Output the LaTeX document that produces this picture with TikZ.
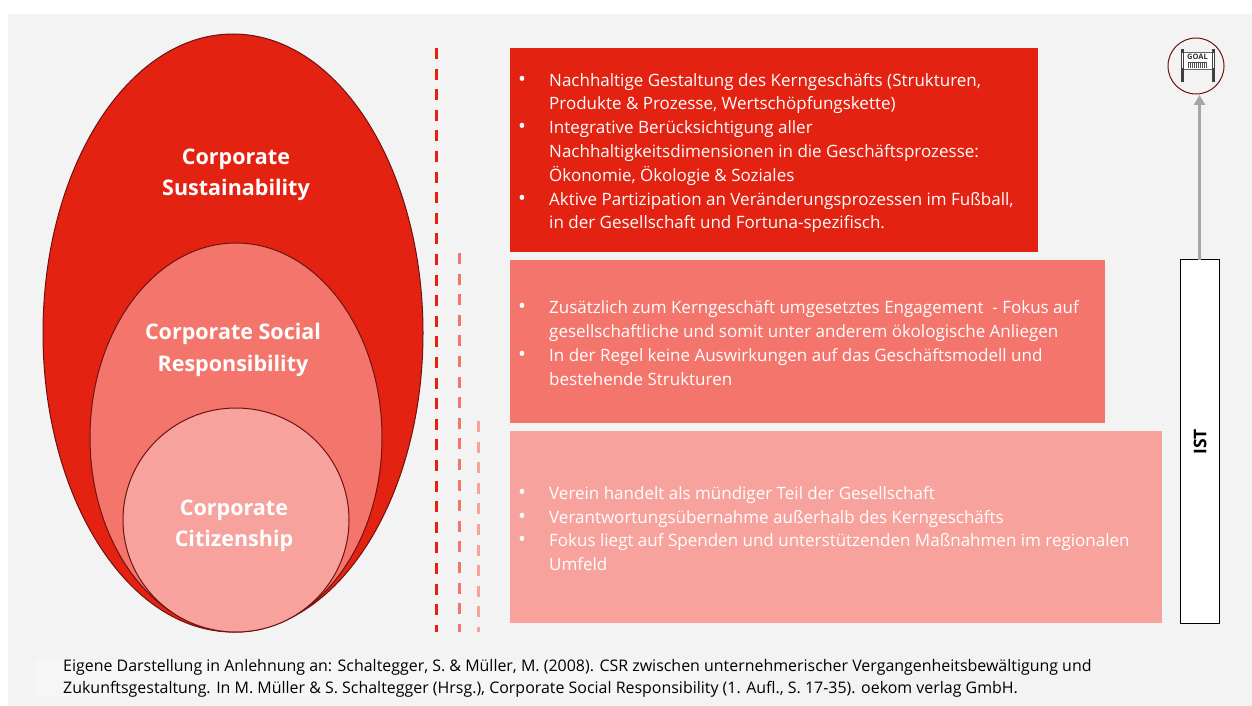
\documentclass[tikz,border=0pt]{standalone}
\usepackage{fontspec}
\setmainfont{Open Sans}
\usetikzlibrary{arrows.meta,shapes.geometric}
\definecolor{bgG}{HTML}{F3F3F3}
\definecolor{redA}{HTML}{E32212}
\definecolor{redB}{HTML}{F4756C}
\definecolor{redC}{HTML}{F8A29D}
\definecolor{edgeD}{HTML}{6E1210}
\newcommand{\bul}[1]{\makebox[39pt][l]{\hspace*{8pt}{\fontsize{21}{24}\selectfont •}}#1}
\newcommand{\cont}[1]{\hspace*{39pt}#1}
\tikzset{
 x=1pt,y=-1pt,
 oval/.style={ellipse,draw=edgeD,line width=1pt,inner sep=0pt,outer sep=0pt},
 panel/.style={anchor=north west,inner sep=0pt,outer sep=0pt,minimum height=#1},
 title/.style={font=\fontsize{21.5}{31.5}\selectfont\bfseries,text=white,align=center},
 body/.style={font=\fontsize{17}{23.8}\selectfont,text=white,align=left,anchor=west,inner sep=0pt},
 divider/.style={line width=3pt,dash pattern=on 11pt off 9.6pt},
}
\begin{document}
\begin{tikzpicture}
\useasboundingbox (0,0) rectangle (1252,706);
\fill[white] (0,0) rectangle (1252,706);
\fill[bgG] (8,14) rectangle (1252,706);
\fill[white!25!bgG] (36,660) rectangle (700,697);
% ovals
\node[oval,fill=redA,minimum width=380pt,minimum height=598pt] (o1) at (233,333) {};
\node[oval,fill=redB,minimum width=292pt,minimum height=389pt] (o2) at (236,437.5) {};
\node[oval,fill=redC,minimum width=226pt,minimum height=224pt] (o3) at (236,520) {};
\node[title] (t1) at (236,175) {Corporate\\Sustainability};
\node[title] (t2) at (233,350) {Corporate Social\\Responsibility};
\node[title] (t3) at (234,526) {Corporate\\Citizenship};
% dividers
\coordinate (d1a) at (436,48); \coordinate (d1b) at (436,632);
\coordinate (d2a) at (459,253); \coordinate (d2b) at (459,632);
\coordinate (d3a) at (478,421); \coordinate (d3b) at (478,632);
\draw[divider,draw=redA] (d1a) -- (d1b);
\draw[divider,draw=redB] (d2a) -- (d2b);
\draw[divider,draw=redC] (d3a) -- (d3b);
% panels
\node[panel=204pt,fill=redA,minimum width=528pt] (p1) at (510,48) {};
\node[panel=163pt,fill=redB,minimum width=595pt] (p2) at (510,260) {};
\node[panel=192pt,fill=redC,minimum width=652pt] (p3) at (510,431) {};
\node[body] (b1) at (510,153) {%
\bul{Nachhaltige Gestaltung des Kerngeschäfts (Strukturen,}\\
\cont{Produkte \& Prozesse, Wertschöpfungskette)}\\
\bul{Integrative Berücksichtigung aller}\\
\cont{Nachhaltigkeitsdimensionen in die Geschäftsprozesse:}\\
\cont{Ökonomie, Ökologie \& Soziales}\\
\bul{Aktive Partizipation an Veränderungsprozessen im Fußball,}\\
\cont{in der Gesellschaft und Fortuna-spezifisch.}};
\node[body] (b2) at (510,343) {%
\bul{Zusätzlich zum Kerngeschäft umgesetztes Engagement\ \ - Fokus auf}\\
\cont{gesellschaftliche und somit unter anderem ökologische Anliegen}\\
\bul{In der Regel keine Auswirkungen auf das Geschäftsmodell und}\\
\cont{bestehende Strukturen}};
\node[body] (b3) at (510,528.5) {%
\bul{Verein handelt als mündiger Teil der Gesellschaft}\\
\bul{Verantwortungsübernahme außerhalb des Kerngeschäfts}\\
\bul{Fokus liegt auf Spenden und unterstützenden Maßnahmen im regionalen}\\
\cont{Umfeld}};
% IST bar and goal
\node[draw=black,fill=white,line width=1pt,minimum width=39pt,minimum height=364pt,inner sep=0pt,outer sep=0pt] (ist) at (1199.5,441.5) {};
\node[rotate=90,font=\fontsize{17.5}{20}\selectfont\bfseries] (istl) at (1200,442) {IST};
\node[circle,draw=edgeD,fill=bgG,line width=1pt,minimum size=56pt,inner sep=0pt,outer sep=0pt] (goal) at (1196,66) {};
\coordinate (arrowtip) at (1199.5,95);
\draw[-{Triangle[length=10pt,width=11pt]},draw=black!35,line width=3pt] (ist.north) -- (arrowtip);
% goal sign
\fill[white] (1184,52) rectangle (1212,69);
\fill[black!75] (1181,49) rectangle (1184,82);
\fill[black!75] (1212,49) rectangle (1215,82);
\fill[white] (1181.8,53) rectangle (1183.2,68);
\fill[white] (1212.8,53) rectangle (1214.2,68);
\draw[black!60,line width=.5pt] (1184,52) -- (1212,52);
\draw[black!60,line width=.5pt] (1184,69) -- (1212,69);
\node[font=\fontsize{7.5}{8}\selectfont\bfseries,inner sep=0pt,text=black!80] (gl) at (1197.5,57) {GOAL};
\foreach \gx in {1188,1190,...,1206}{\fill[black!70] (\gx,62) rectangle ++(1.1,6);}
\fill[black!70] (1188,62) rectangle (1207,63);
% footer
\node[anchor=north west,inner sep=0pt,align=left,font=\fontsize{15.95}{22}\selectfont,text=black] (foot) at (63,659.5) {%
Eigene Darstellung in Anlehnung an: Schaltegger, S. \& Müller, M. (2008). CSR zwischen unternehmerischer Vergangenheitsbewältigung und\\
Zukunftsgestaltung. In M. Müller \& S. Schaltegger (Hrsg.), Corporate Social Responsibility (1. Aufl., S. 17-35). oekom verlag GmbH.};
\end{tikzpicture}
\end{document}
